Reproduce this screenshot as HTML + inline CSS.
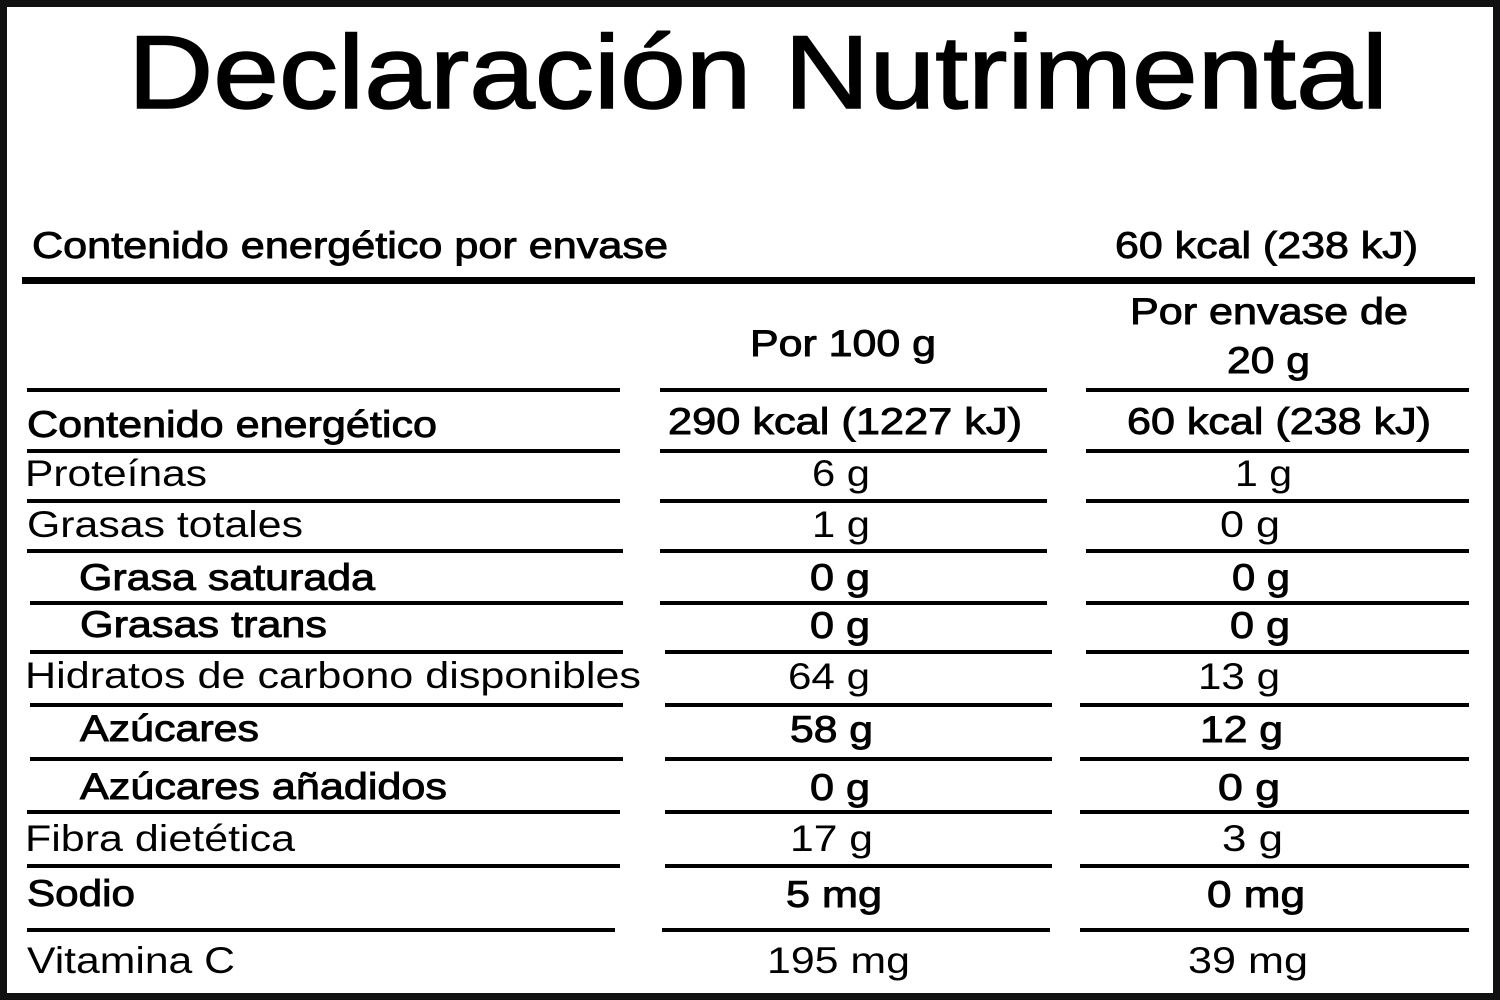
<!DOCTYPE html>
<html><head><meta charset="utf-8"><style>
html,body{margin:0;padding:0;background:#fff}
svg{display:block}
text{font-family:"Liberation Sans",Arial,sans-serif;fill:#000}
.m{stroke:#000;stroke-width:0.9}
</style></head><body>
<svg width="1500" height="1000" viewBox="0 0 1500 1000" xmlns="http://www.w3.org/2000/svg">
<rect x="3.5" y="3.5" width="1493" height="993" fill="none" stroke="#111" stroke-width="7"/>
<text x="128" y="108" font-size="104" stroke="#000" stroke-width="1.6" textLength="1260" lengthAdjust="spacingAndGlyphs">Declaración Nutrimental</text>
<text class="m" x="32" y="258" font-size="37" textLength="636" lengthAdjust="spacingAndGlyphs">Contenido energético por envase</text>
<text class="m" x="1115" y="258" font-size="37" textLength="303" lengthAdjust="spacingAndGlyphs">60 kcal (238 kJ)</text>
<rect x="22" y="277" width="1453" height="7" fill="#000"/>
<text class="m" x="750" y="356" font-size="37" textLength="186" lengthAdjust="spacingAndGlyphs">Por 100 g</text>
<text class="m" x="1130" y="324" font-size="37" textLength="278" lengthAdjust="spacingAndGlyphs">Por envase de</text>
<text class="m" x="1227" y="373" font-size="37" textLength="83" lengthAdjust="spacingAndGlyphs">20 g</text>
<g fill="#000">
<rect x="27" y="388" width="593" height="4"/><rect x="660" y="388" width="387" height="4"/><rect x="1086" y="388" width="383" height="4"/>
<rect x="27" y="449" width="593" height="4"/><rect x="660" y="449" width="387" height="4"/><rect x="1086" y="449" width="383" height="4"/>
<rect x="27" y="499" width="593" height="4"/><rect x="660" y="499" width="387" height="4"/><rect x="1086" y="499" width="383" height="4"/>
<rect x="27" y="549" width="596" height="4"/><rect x="660" y="549" width="387" height="4"/><rect x="1086" y="549" width="383" height="4"/>
<rect x="30" y="601" width="593" height="4"/><rect x="660" y="601" width="387" height="4"/><rect x="1086" y="601" width="383" height="4"/>
<rect x="30" y="650" width="593" height="4"/><rect x="665" y="650" width="387" height="4"/><rect x="1086" y="650" width="383" height="4"/>
<rect x="30" y="703" width="593" height="4"/><rect x="665" y="703" width="387" height="4"/><rect x="1080" y="703" width="389" height="4"/>
<rect x="30" y="757" width="593" height="4"/><rect x="665" y="757" width="387" height="4"/><rect x="1080" y="757" width="389" height="4"/>
<rect x="27" y="810" width="593" height="4"/><rect x="665" y="810" width="387" height="4"/><rect x="1080" y="810" width="389" height="4"/>
<rect x="27" y="864" width="593" height="4"/><rect x="665" y="864" width="387" height="4"/><rect x="1080" y="864" width="389" height="4"/>
<rect x="27" y="928" width="588" height="4"/><rect x="662" y="928" width="388" height="4"/><rect x="1080" y="928" width="389" height="4"/>
</g>
<g font-size="37">
<text class="m" x="27" y="437" textLength="410" lengthAdjust="spacingAndGlyphs">Contenido energético</text>
<text class="m" x="668" y="434" textLength="354" lengthAdjust="spacingAndGlyphs">290 kcal (1227 kJ)</text>
<text class="m" x="1127" y="434" textLength="304" lengthAdjust="spacingAndGlyphs">60 kcal (238 kJ)</text>

<text x="25" y="486" textLength="182" lengthAdjust="spacingAndGlyphs">Proteínas</text>
<text x="812" y="486" textLength="58" lengthAdjust="spacingAndGlyphs">6 g</text>
<text x="1235" y="486" textLength="57" lengthAdjust="spacingAndGlyphs">1 g</text>

<text x="27" y="537" textLength="276" lengthAdjust="spacingAndGlyphs">Grasas totales</text>
<text x="812" y="537" textLength="58" lengthAdjust="spacingAndGlyphs">1 g</text>
<text x="1220" y="537" textLength="60" lengthAdjust="spacingAndGlyphs">0 g</text>

<text class="m" x="79" y="590" textLength="296" lengthAdjust="spacingAndGlyphs">Grasa saturada</text>
<text class="m" x="810" y="590" textLength="60" lengthAdjust="spacingAndGlyphs">0 g</text>
<text class="m" x="1232" y="590" textLength="58" lengthAdjust="spacingAndGlyphs">0 g</text>

<text class="m" x="80" y="637" textLength="247" lengthAdjust="spacingAndGlyphs">Grasas trans</text>
<text class="m" x="810" y="638" textLength="60" lengthAdjust="spacingAndGlyphs">0 g</text>
<text class="m" x="1230" y="638" textLength="60" lengthAdjust="spacingAndGlyphs">0 g</text>

<text x="25" y="688" textLength="616" lengthAdjust="spacingAndGlyphs">Hidratos de carbono disponibles</text>
<text x="788" y="689" textLength="82" lengthAdjust="spacingAndGlyphs">64 g</text>
<text x="1198" y="689" textLength="82" lengthAdjust="spacingAndGlyphs">13 g</text>

<text class="m" x="80" y="741" textLength="179" lengthAdjust="spacingAndGlyphs">Azúcares</text>
<text class="m" x="790" y="742" textLength="83" lengthAdjust="spacingAndGlyphs">58 g</text>
<text class="m" x="1200" y="742" textLength="83" lengthAdjust="spacingAndGlyphs">12 g</text>

<text class="m" x="80" y="799" textLength="367" lengthAdjust="spacingAndGlyphs">Azúcares añadidos</text>
<text class="m" x="810" y="800" textLength="60" lengthAdjust="spacingAndGlyphs">0 g</text>
<text class="m" x="1218" y="800" textLength="62" lengthAdjust="spacingAndGlyphs">0 g</text>

<text x="25" y="851" textLength="270" lengthAdjust="spacingAndGlyphs">Fibra dietética</text>
<text x="790" y="851" textLength="83" lengthAdjust="spacingAndGlyphs">17 g</text>
<text x="1222" y="851" textLength="61" lengthAdjust="spacingAndGlyphs">3 g</text>

<text class="m" x="27" y="906" textLength="108" lengthAdjust="spacingAndGlyphs">Sodio</text>
<text class="m" x="786" y="907" textLength="96" lengthAdjust="spacingAndGlyphs">5 mg</text>
<text class="m" x="1207" y="907" textLength="98" lengthAdjust="spacingAndGlyphs">0 mg</text>

<text x="27" y="973" textLength="208" lengthAdjust="spacingAndGlyphs">Vitamina C</text>
<text x="767" y="973" textLength="143" lengthAdjust="spacingAndGlyphs">195 mg</text>
<text x="1188" y="973" textLength="120" lengthAdjust="spacingAndGlyphs">39 mg</text>
</g>
</svg>
</body></html>
